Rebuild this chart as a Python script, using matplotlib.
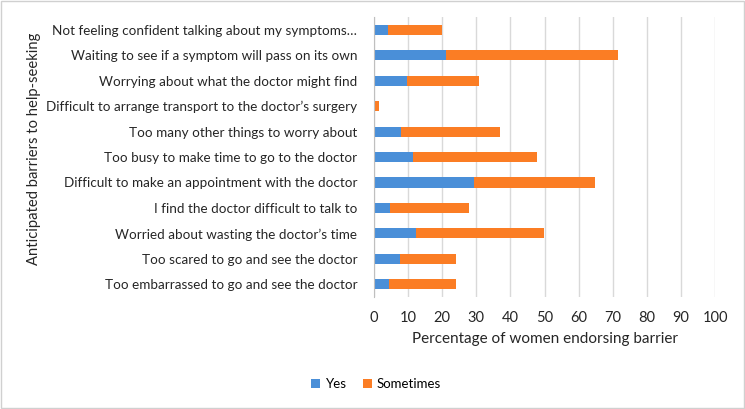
import matplotlib.pyplot as plt

plt.rcParams['font.family'] = ['Lato', 'DejaVu Sans']

barriers = [
    "Too embarrassed to go and see the doctor",
    "Too scared to go and see the doctor",
    "Worried about wasting the doctor\u2019s time",
    "I find the doctor difficult to talk to",
    "Difficult to make an appointment with the doctor",
    "Too busy to make time to go to the doctor",
    "Too many other things to worry about",
    "Difficult to arrange transport to the doctor\u2019s surgery",
    "Worrying about what the doctor might find",
    "Waiting to see if a symptom will pass on its own",
    "Not feeling confident talking about my symptoms\u2026",
]
yes = [4.4, 7.6, 12.4, 4.7, 29.2, 11.4, 7.9, 0.0, 9.8, 21.2, 4.1]
sometimes = [19.5, 16.3, 37.3, 23.0, 35.5, 36.3, 29.1, 1.4, 21.1, 50.3, 15.9]

fig = plt.figure(figsize=(7.45, 4.09), dpi=100)
ax = fig.add_axes([0.502, 0.274, 0.458, 0.684])

pos = range(len(barriers))
ax.barh(pos, yes, height=0.4, color='#4a8fd8', label='Yes')
ax.barh(pos, sometimes, left=yes, height=0.4, color='#fb7d24', label='Sometimes')

ax.set_xlim(0, 100)
ax.set_ylim(-0.5, len(barriers) - 0.5)
ax.set_xticks(range(0, 101, 10))
ax.set_yticks(list(pos))
ax.set_yticklabels(barriers, fontsize=9.7)
ax.tick_params(axis='both', length=0, colors='#262626')
ax.tick_params(axis='x', labelsize=10.5, pad=10)
ax.tick_params(axis='y', pad=12)
ax.grid(axis='x', color='#d9d9d9', linewidth=1)
ax.set_axisbelow(True)
for s in ['top', 'right', 'bottom']:
    ax.spines[s].set_visible(False)
ax.spines['left'].set_color('#bfbfbf')

ax.set_xlabel('Percentage of women endorsing barrier', fontsize=11, color='#262626', labelpad=5)
fig.text(0.045, 0.635, 'Anticipated barriers to help-seeking', rotation=90,
         fontsize=10.6, color='#262626', ha='center', va='center')

fig.legend(loc='center', bbox_to_anchor=(0.505, 0.061), ncol=2, frameon=False,
           fontsize=9.5, handlelength=0.7, handleheight=0.7, columnspacing=1.2,
           handletextpad=0.4)

fig.patches.append(plt.Rectangle((0.001, 0.002), 0.997, 0.996, transform=fig.transFigure,
                                 fill=False, edgecolor='#d0d0d0', linewidth=1))
fig.savefig('out.png', dpi=100)
